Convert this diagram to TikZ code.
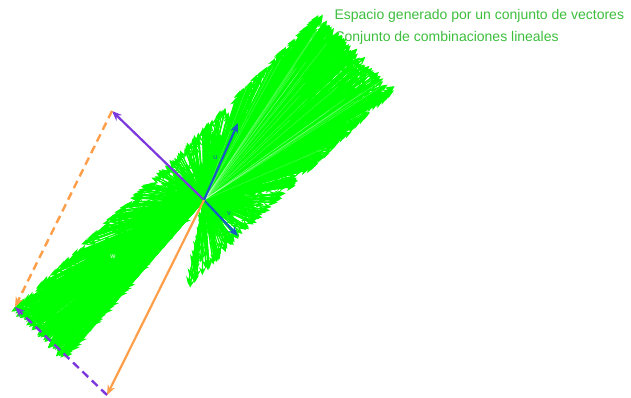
\documentclass[tikz,border=0pt]{standalone}
\usepackage{fontspec}
\setmainfont{Liberation Sans}
\usepackage{tikz}
\usetikzlibrary{arrows.meta}
\definecolor{fan}{RGB}{0,255,0}
\definecolor{title}{RGB}{60,190,60}
\definecolor{vecblue}{RGB}{24,92,196}
\definecolor{vecpurple}{RGB}{124,56,220}
\definecolor{vecorange}{RGB}{255,158,72}
\newcommand\spanarrow[2]{%
  \pgfmathsetmacro\dx{155*#1+38*#2}
  \pgfmathsetmacro\dy{-150*#1+38*#2}
  \pgfmathsetmacro\ang{atan2(\dy,\dx)}
  \pgfmathtruncatemacro\gap{and(\ang>101,\ang<131)}
  \ifnum\gap=0 \draw[span] (O) -- ++(\dx,\dy); \fi}
\begin{document}
\begin{tikzpicture}[
  x=1pt,y=-1pt,
  span/.style={draw=fan,line width=1.3pt,-{Stealth[length=8pt,width=7pt]}},
  streak/.style={draw=white,line width=0.4pt,opacity=0.3},
  vec/.style={line width=2.2pt,-{Stealth[length=10pt,width=8pt]}},
  dashvec/.style={vec,line width=2.4pt,dash pattern=on 8pt off 5pt},
  ttl/.style={anchor=west,font=\fontsize{14}{14}\selectfont\color{title}},
  tag/.style={font=\fontsize{7}{7}\selectfont},
]
\useasboundingbox (0,0) rectangle (631,398);

\node[ttl] (t1) at (331,16) {Espacio generado por un conjunto de vectores};
\node[ttl] (t2) at (331,38) {Conjunto de combinaciones lineales};

\coordinate (O) at (204,200);
\coordinate (u) at (238,123);
\coordinate (v) at (238,236);
\coordinate (p) at (112,111);
\coordinate (q) at (107,395);
\coordinate (w) at (15,307);

% combinaciones s*D + t*E
\pgfmathsetseed{11}
\foreach \i in {1,...,1500}{
  \pgfmathsetmacro\sa{2*rnd-1}
  \pgfmathsetmacro\tb{2*rnd-1}
  \spanarrow{\sa}{\tb}
}
% extremos de la banda
\foreach \i in {1,...,160}{
  \pgfmathsetmacro\sa{0.9+0.1*rnd}
  \pgfmathsetmacro\tb{2*rnd-1}
  \spanarrow{\sa}{\tb}
  \spanarrow{-\sa}{\tb}
}
% bordes t = -1 y t = 1
\foreach \i in {1,...,120}{
  \pgfmathsetmacro\sa{2*rnd-1}
  \pgfmathsetmacro\tb{0.92+0.08*rnd}
  \spanarrow{\sa}{\tb}
  \spanarrow{\sa}{-\tb}
}
\foreach \i in {1,...,25}{
  \pgfmathsetmacro\sa{0.5+0.5*rnd}
  \pgfmathsetmacro\tb{2*rnd-1}
  \draw[streak] (O) -- ++({155*\sa+38*\tb},{-150*\sa+38*\tb});
}

\draw[vec,vecpurple] (O) -- (p);
\draw[vec,vecblue] (O) -- (u) node[tag,pos=0.55,left=1pt] (lu) {u};
\draw[vec,vecblue] (O) -- (v) node[tag,pos=0.55,above right=0pt] (lv) {v};
\draw[vec,vecorange] (O) -- (q);
\draw[dashvec,vecorange] (p) -- (w);
\draw[dashvec,vecpurple] (q) -- (w);
\node[tag,white] (lw) at (113,257) {w};
\end{tikzpicture}
\end{document}
